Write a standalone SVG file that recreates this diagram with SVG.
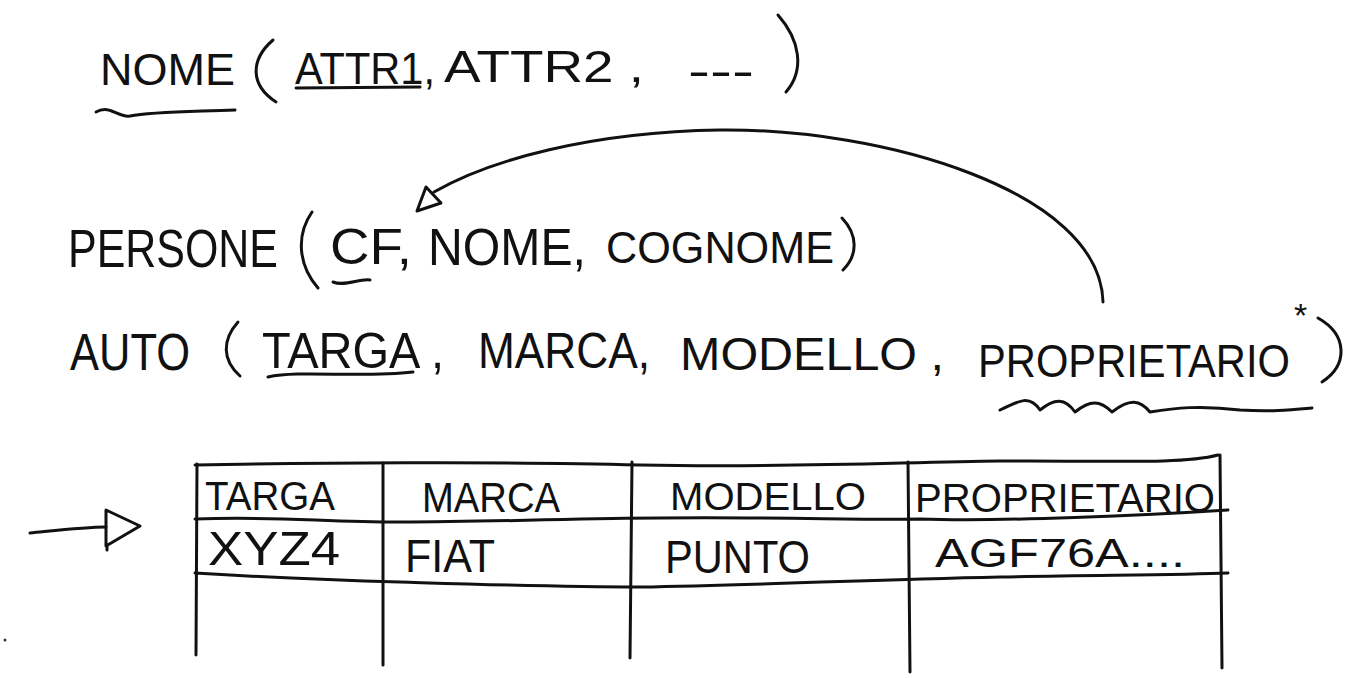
<svg xmlns="http://www.w3.org/2000/svg" width="1372" height="678" viewBox="0 0 1372 678">
<style>
text{font-family:"Liberation Sans",Arial,sans-serif;fill:#111;}
.s{fill:none;stroke:#111;stroke-width:3;stroke-linecap:round;stroke-linejoin:round;}
</style>
<rect width="1372" height="678" fill="#fff"/>
<g id="schema-generic">
<text x="100" y="85" font-size="44" textLength="135" lengthAdjust="spacingAndGlyphs">NOME</text>
<path class="s" d="M96,112 C110,104 118,118 130,116 C150,112 180,112 235,110"/>
<path class="s" d="M273,40 C250,60 250,85 276,102"/>
<text x="295" y="84" font-size="44" textLength="140" lengthAdjust="spacingAndGlyphs">ATTR1,</text>
<path class="s" d="M296,88 L420,87"/>
<text x="444" y="82" font-size="44" textLength="200" lengthAdjust="spacingAndGlyphs">ATTR2 ,</text>
<text x="688" y="86" font-size="44" textLength="66" lengthAdjust="spacingAndGlyphs">---</text>
<path class="s" d="M778,15 C800,40 805,70 786,92"/>
</g>
<g id="persone">
<text x="68" y="267" font-size="54" textLength="210" lengthAdjust="spacingAndGlyphs">PERSONE</text>
<path class="s" d="M312,212 C296,235 298,265 318,288"/>
<text x="330" y="264" font-size="50" textLength="82" lengthAdjust="spacingAndGlyphs">CF,</text>
<path class="s" d="M333,282 C345,287 360,278 370,280"/>
<text x="428" y="265" font-size="52" textLength="158" lengthAdjust="spacingAndGlyphs">NOME,</text>
<text x="606" y="263" font-size="44" textLength="228" lengthAdjust="spacingAndGlyphs">COGNOME</text>
<path class="s" d="M842,218 C858,235 858,255 843,270"/>
</g>
<g id="auto">
<text x="70" y="370" font-size="52" textLength="120" lengthAdjust="spacingAndGlyphs">AUTO</text>
<path class="s" d="M238,322 C222,340 222,360 240,376"/>
<text x="262" y="368" font-size="50" textLength="182" lengthAdjust="spacingAndGlyphs">TARGA ,</text>
<path class="s" d="M268,377 C300,370 360,378 413,372"/>
<text x="478" y="368" font-size="50" textLength="172" lengthAdjust="spacingAndGlyphs">MARCA,</text>
<text x="680" y="370" font-size="46" textLength="264" lengthAdjust="spacingAndGlyphs">MODELLO  ,</text>
<text x="978" y="377" font-size="46" textLength="312" lengthAdjust="spacingAndGlyphs">PROPRIETARIO</text>
<text x="1294" y="327" font-size="34">*</text>
<path class="s" d="M1318,318 C1348,335 1348,365 1322,382"/>
<path class="s" d="M1000,410 C1020,400 1030,395 1040,410 C1055,398 1065,398 1075,412 C1090,400 1100,400 1112,412 C1130,398 1140,400 1150,412 C1175,408 1200,405 1240,410 C1270,412 1290,410 1312,408"/>
</g>
<g id="connectors">
<path class="s" d="M1103,302 C1100,190 880,128 720,130 C590,132 490,160 434,192"/>
<path class="s" d="M417,211 L426,187 L441,203 Z" fill="#444"/>
<path class="s" d="M30,533 C60,530 85,527 106,527"/>
<path class="s" d="M106,510 L140,526 L106,546 Z M107,546 L107,550"/>
</g>
<g id="table-auto">
<path class="s" d="M195,465 C300,463 500,461 640,465 C800,468 900,462 1000,461 C1100,460 1180,465 1218,455"/>
<path class="s" d="M195,519 C280,516 320,522 400,522 C500,522 580,518 660,518 C780,517 860,520 920,519 C1000,522 1150,515 1228,510"/>
<path class="s" d="M195,573 C260,577 320,580 400,582 C500,585 560,587 640,587 C760,585 860,580 1000,577 C1100,575 1180,575 1228,573"/>
<path class="s" d="M197,464 L196,655"/>
<path class="s" d="M383,463 L383,665"/>
<path class="s" d="M632,462 L630,658"/>
<path class="s" d="M908,462 L910,672"/>
<path class="s" d="M1220,455 L1222,668"/>
<text x="205" y="510" font-size="40" textLength="130" lengthAdjust="spacingAndGlyphs">TARGA</text>
<text x="422" y="512" font-size="42" textLength="138" lengthAdjust="spacingAndGlyphs">MARCA</text>
<text x="670" y="510" font-size="38" textLength="196" lengthAdjust="spacingAndGlyphs">MODELLO</text>
<text x="915" y="512" font-size="40" textLength="300" lengthAdjust="spacingAndGlyphs">PROPRIETARIO</text>
<text x="208" y="565" font-size="48" textLength="132" lengthAdjust="spacingAndGlyphs">XYZ4</text>
<text x="405" y="572" font-size="46" textLength="90" lengthAdjust="spacingAndGlyphs">FIAT</text>
<text x="665" y="573" font-size="46" textLength="145" lengthAdjust="spacingAndGlyphs">PUNTO</text>
<text x="935" y="567" font-size="40" textLength="250" lengthAdjust="spacingAndGlyphs">AGF76A....</text>
</g>
<circle cx="5" cy="640" r="1.5" fill="#333"/>
</svg>
